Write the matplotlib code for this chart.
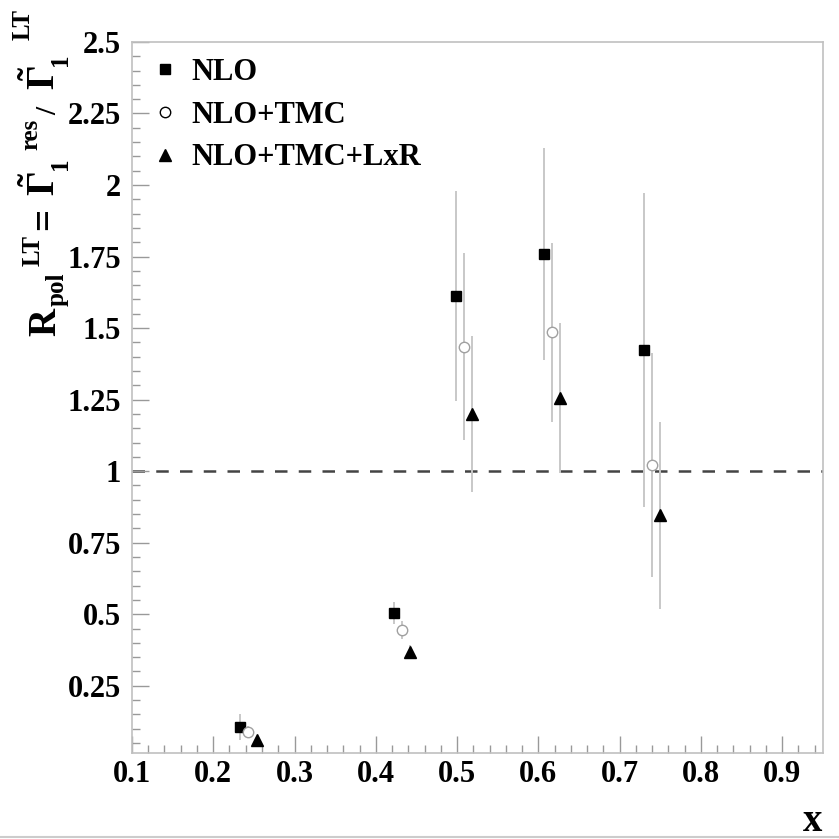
import numpy as np
import matplotlib.pyplot as plt
from matplotlib.lines import Line2D
from matplotlib.ticker import MultipleLocator

plt.rcParams['font.family'] = ['Liberation Serif', 'DejaVu Serif']
plt.rcParams['font.weight'] = 'bold'
plt.rcParams['mathtext.fontset'] = 'custom'
plt.rcParams['mathtext.rm'] = 'Liberation Serif:bold'
plt.rcParams['mathtext.bf'] = 'Liberation Serif:bold'

# ratio R_pol^LT for the three analyses
x_nlo = [0.233, 0.422, 0.499, 0.607, 0.730]
r_nlo = [0.106, 0.505, 1.613, 1.758, 1.423]
e_nlo = [0.044, 0.038, 0.367, 0.370, 0.549]

x_tmc = [0.243, 0.432, 0.509, 0.617, 0.740]
r_tmc = [0.088, 0.446, 1.435, 1.485, 1.021]
e_tmc = [0.020, 0.032, 0.327, 0.313, 0.392]

x_lxr = [0.254, 0.442, 0.518, 0.627, 0.750]
r_lxr = [0.060, 0.368, 1.200, 1.255, 0.846]
e_lxr = [0.010, 0.025, 0.273, 0.263, 0.326]

xticks = [0.1, 0.2, 0.3, 0.4, 0.5, 0.6, 0.7, 0.8, 0.9]
yticks = [0.25, 0.5, 0.75, 1, 1.25, 1.5, 1.75, 2, 2.25, 2.5]
ylabels = ['0.25', '0.5', '0.75', '1', '1.25', '1.5', '1.75', '2', '2.25', '2.5']

W = H = 839
fig = plt.figure(figsize=(W / 100, H / 100), dpi=100)
ax = fig.add_axes([0.1573, 0.1025, 0.8233, 0.8475])

ecol = '#c8c8c8'
ax.axhline(1.0, color='#444444', lw=1.8, ls=(0, (5, 4.5)), zorder=1)

ax.errorbar(x_nlo, r_nlo, yerr=e_nlo, fmt='none', ecolor=ecol, elinewidth=1.4, capsize=0, zorder=2)
ax.errorbar(x_tmc, r_tmc, yerr=e_tmc, fmt='none', ecolor=ecol, elinewidth=1.4, capsize=0, zorder=2)
ax.errorbar(x_lxr, r_lxr, yerr=e_lxr, fmt='none', ecolor=ecol, elinewidth=1.4, capsize=0, zorder=2)

ax.plot(x_nlo, r_nlo, 's', color='black', ms=7.5, ls='none', zorder=3)
ax.plot(x_tmc, r_tmc, 'o', mfc='white', mec='#a0a0a0', mew=1.0, ms=7.5, ls='none', zorder=3)
ax.plot(x_lxr, r_lxr, '^', color='black', ms=8, ls='none', zorder=3)

handles = [
    Line2D([], [], marker='s', color='black', ms=7.5, ls='none'),
    Line2D([], [], marker='o', mfc='white', mec='black', mew=1.0, ms=7.5, ls='none'),
    Line2D([], [], marker='^', color='black', ms=8, ls='none'),
]
ax.legend(handles, ['NLO', 'NLO+TMC', 'NLO+TMC+LxR'], loc='upper left',
          bbox_to_anchor=(0.0, 1.0), frameon=False, fontsize=22,
          handlelength=1.1, handletextpad=0.33, labelspacing=0.45,
          borderaxespad=0.0, borderpad=0.52)

ax.set_xlim(0.1, 0.95)
ax.set_ylim(0.015, 2.5)
ax.set_xticks(xticks)
ax.set_xticklabels([f'{t:.1f}' for t in xticks])
ax.set_yticks(yticks)
ax.set_yticklabels(ylabels)
ax.xaxis.set_minor_locator(MultipleLocator(0.02))
ax.yaxis.set_minor_locator(MultipleLocator(0.05))
ax.tick_params(which='both', direction='in', colors='#999999', labelcolor='black',
               labelsize=22, top=False, right=False)
ax.tick_params(which='major', length=12, width=1.0)
ax.tick_params(which='minor', length=6, width=1.0)
ax.tick_params(axis='y', pad=8)
ax.tick_params(axis='x', pad=5)
for s in ax.spines.values():
    s.set_color('#c0c0c0')
    s.set_linewidth(1.2)


# y title built piece by piece (ROOT-like spacing of sub/superscripts)
def vtext(px, py, s, size, ha='left', va='baseline'):
    fig.text(px / W, 1 - py / H, s, rotation=90, rotation_mode='anchor',
             ha=ha, va=va, fontsize=size, fontweight='bold')


big, small = 28, 18
vtext(55, 336, 'R', big)
vtext(64, 306, 'pol', small)
vtext(40, 266, 'LT', small)
vtext(55, 230, '=', big)
vtext(55, 196, r'$\tilde{\Gamma}$', big)
vtext(67, 170, '1', small)
vtext(37, 150, 'res', small)
vtext(56, 115, '/', 21)
vtext(55, 90, r'$\tilde{\Gamma}$', big)
vtext(67, 66, '1', small)
vtext(30, 40, 'LT', small)

fig.text(0.98, 0.009, 'x', ha='right', va='baseline', fontsize=28, fontweight='bold')

fig.add_artist(Line2D([0, 1], [0.002, 0.002], color='#cccccc', lw=1.5, transform=fig.transFigure))

fig.savefig('out.png', dpi=100)
